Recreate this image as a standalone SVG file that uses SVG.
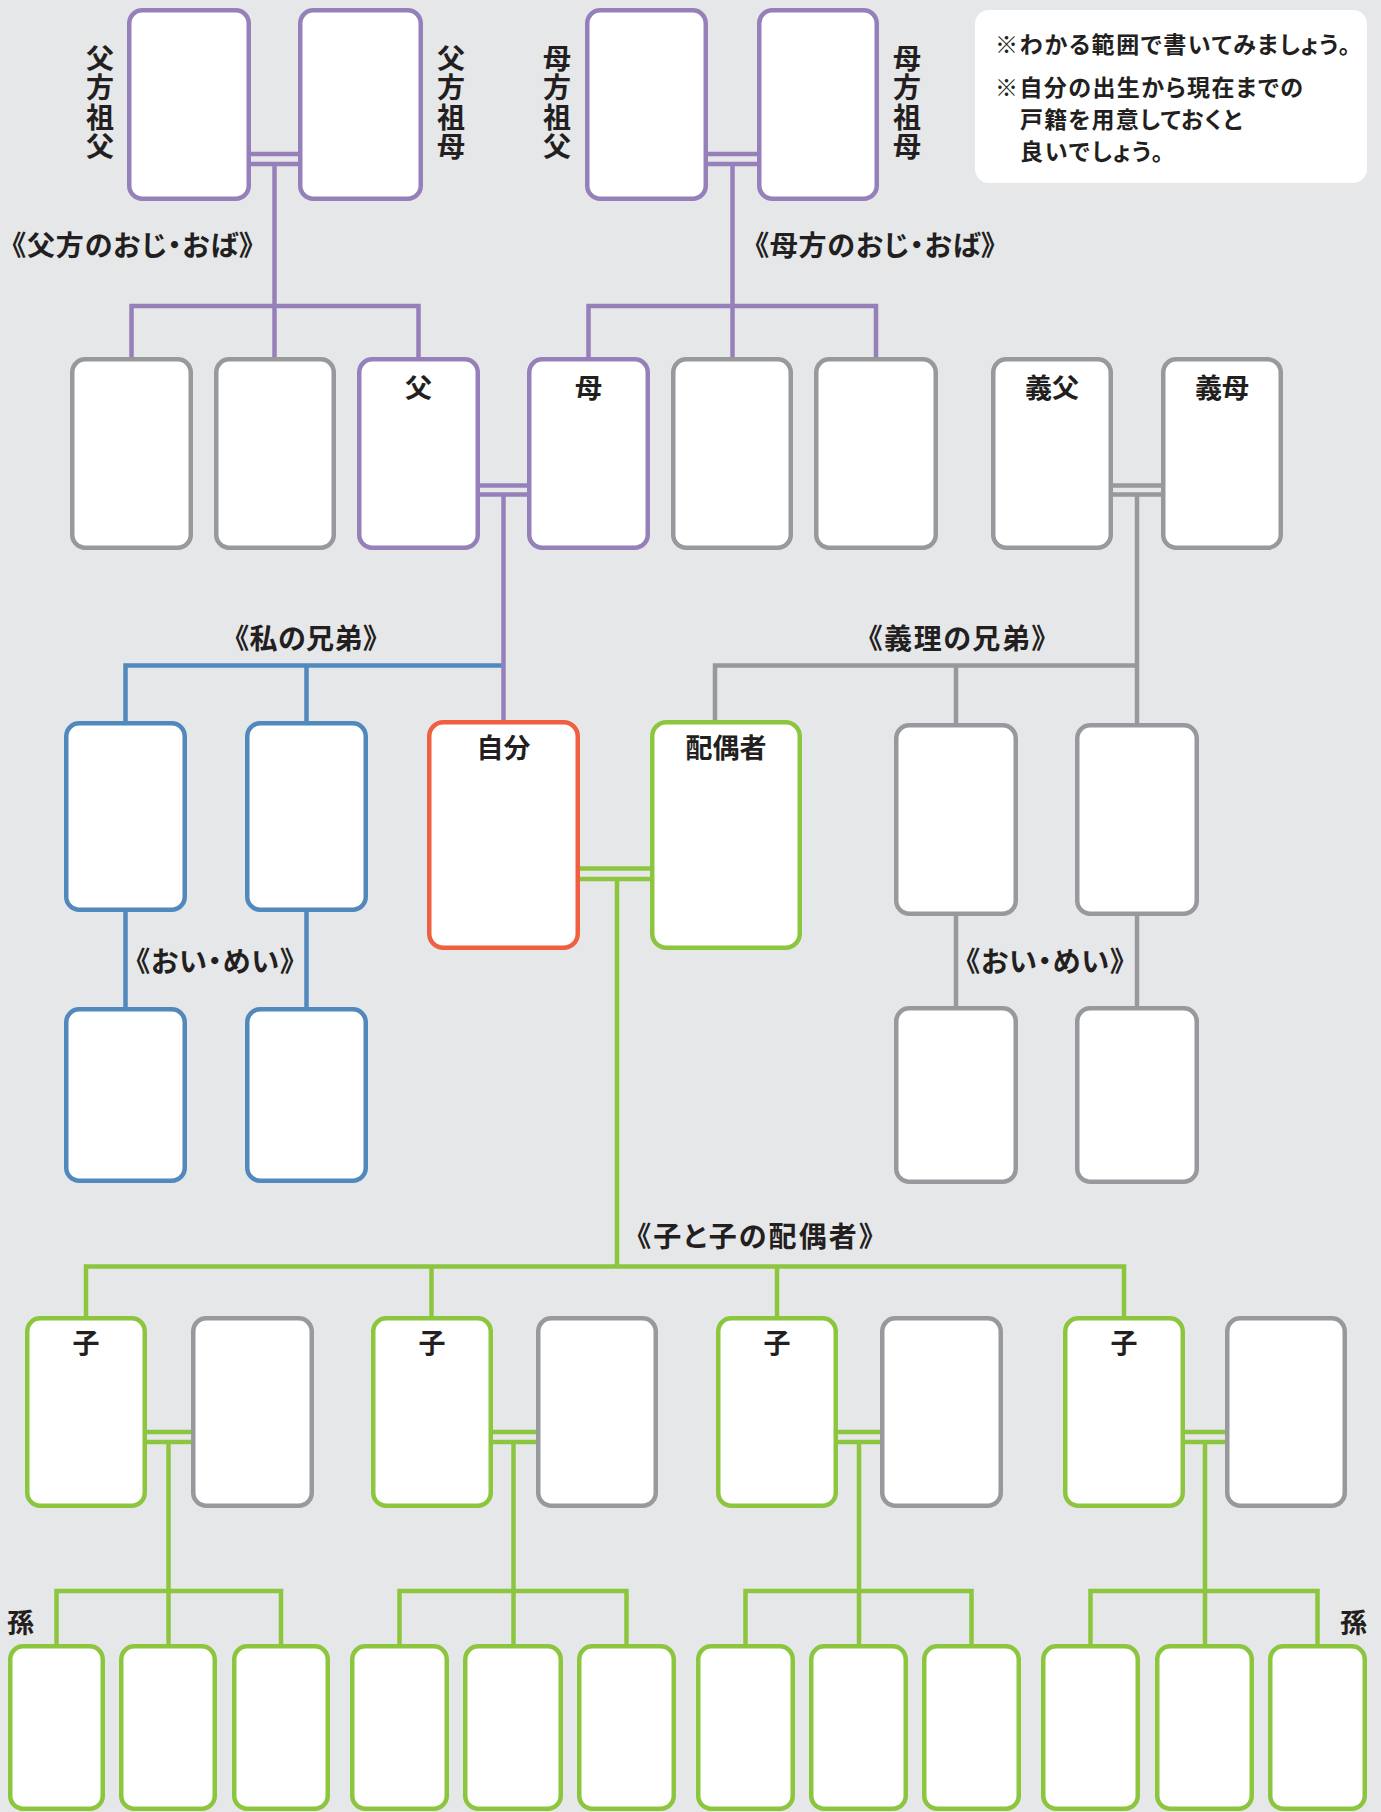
<svg xmlns="http://www.w3.org/2000/svg" width="1381" height="1812" viewBox="0 0 1381 1812">
<style>
.box{fill:#fff;stroke-width:4.5}
.p{stroke:#9680ba}
.g{stroke:#98999c}
.b{stroke:#5189bd}
.r{stroke:#f05f40}
.gr{stroke:#8cc63f}
.ln{fill:none;stroke-width:4.5;stroke-linejoin:miter}
.t{font-family:"Noto Sans CJK JP","Noto Sans CJK SC",sans-serif;fill:#231f20}
.bl{font-size:27px;font-weight:700;text-anchor:middle}
.sl{font-size:28px;font-weight:700;text-anchor:middle;font-feature-settings:"palt" 1}
.vl{font-size:28px;font-weight:700;writing-mode:vertical-rl;letter-spacing:1.5px}
.nt{font-size:23px;font-weight:700;font-feature-settings:"palt" 1}
</style>
<rect x="0" y="0" width="1381" height="1812" fill="#e6e7e9"/>

<g id="connectors">
  <g class="ln b">
    <path d="M125.5 723 V665.5 H503.5"/>
    <path d="M306.5 665.5 V723"/>
    <path d="M125.5 912 V1009"/>
    <path d="M306.5 912 V1009"/>
  </g>
  <g class="ln p">
    <path d="M251 154 H298"/>
    <path d="M251 164 H298"/>
    <path d="M274.5 164 V359"/>
    <path d="M131.5 359 V306 H418.5 V359"/>
    <path d="M708 154 H757"/>
    <path d="M708 164 H757"/>
    <path d="M732.5 164 V359"/>
    <path d="M588.5 359 V306 H876 V359"/>
    <path d="M480 485.5 H527"/>
    <path d="M480 494.5 H527"/>
    <path d="M503.5 494.5 V722"/>
  </g>
  <g class="ln g">
    <path d="M1113 485.5 H1161"/>
    <path d="M1113 494.5 H1161"/>
    <path d="M1137 494.5 V725"/>
    <path d="M715 722 V665.5 H1137"/>
    <path d="M956 665.5 V725"/>
    <path d="M956 916 V1008"/>
    <path d="M1137 916 V1008"/>
  </g>
  <g class="ln gr">
    <path d="M580 868.5 H650"/>
    <path d="M580 879 H650"/>
    <path d="M617 879 V1266.5"/>
    <path d="M86 1318 V1266.5 H1124 V1318"/>
    <path d="M431.5 1266.5 V1318"/>
    <path d="M777 1266.5 V1318"/>
    <path d="M147 1432 H191"/><path d="M147 1442 H191"/>
    <path d="M493 1432 H536"/><path d="M493 1442 H536"/>
    <path d="M838 1432 H880"/><path d="M838 1442 H880"/>
    <path d="M1185 1432 H1225"/><path d="M1185 1442 H1225"/>
    <path d="M168.5 1442 V1646"/>
    <path d="M56.5 1646 V1591 H281 V1646"/>
    <path d="M513.5 1442 V1646"/>
    <path d="M399.5 1646 V1591 H626.5 V1646"/>
    <path d="M859 1442 V1646"/>
    <path d="M745.5 1646 V1591 H971.5 V1646"/>
    <path d="M1205 1442 V1646"/>
    <path d="M1090.5 1646 V1591 H1317.5 V1646"/>
  </g>
</g>

<g id="note">
  <rect x="975" y="10" width="392" height="173" rx="14" fill="#fff"/>
  <text class="t nt" x="995" y="53" textLength="355" lengthAdjust="spacing">※わかる範囲で書いてみましょう。</text>
  <text class="t nt" x="995" y="96" textLength="308" lengthAdjust="spacing">※自分の出生から現在までの</text>
  <text class="t nt" x="1020" y="128" textLength="222" lengthAdjust="spacing">戸籍を用意しておくと</text>
  <text class="t nt" x="1020" y="160" textLength="143" lengthAdjust="spacing">良いでしょう。</text>
</g>

<g id="paternal-grandfather">
  <rect class="box p" x="129.25" y="10.25" width="119.5" height="188.5" rx="13"/>
  <text class="t vl" x="100" y="44">父方祖父</text>
</g>
<g id="paternal-grandmother">
  <rect class="box p" x="300.25" y="10.25" width="120.5" height="188.5" rx="13"/>
  <text class="t vl" x="451" y="44">父方祖母</text>
</g>
<g id="maternal-grandfather">
  <rect class="box p" x="587.25" y="10.25" width="118.5" height="188.5" rx="13"/>
  <text class="t vl" x="557" y="44">母方祖父</text>
</g>
<g id="maternal-grandmother">
  <rect class="box p" x="759.25" y="10.25" width="117.5" height="188.5" rx="13"/>
  <text class="t vl" x="907" y="44">母方祖母</text>
</g>

<g id="labels">
  <text class="t sl" x="132.5" y="255.5" textLength="241" lengthAdjust="spacing">《父方のおじ・おば》</text>
  <text class="t sl" x="875" y="256" textLength="240" lengthAdjust="spacing">《母方のおじ・おば》</text>
  <text class="t sl" x="306" y="649" textLength="142" lengthAdjust="spacing">《私の兄弟》</text>
  <text class="t sl" x="957" y="649" textLength="177" lengthAdjust="spacing">《義理の兄弟》</text>
  <text class="t sl" x="215" y="972" textLength="158" lengthAdjust="spacing">《おい・めい》</text>
  <text class="t sl" x="1045" y="972" textLength="158" lengthAdjust="spacing">《おい・めい》</text>
  <text class="t sl" x="755" y="1247" textLength="236" lengthAdjust="spacing">《子と子の配偶者》</text>
  <text class="t bl" x="20.5" y="1633">孫</text>
  <text class="t bl" x="1353.5" y="1633">孫</text>
</g>

<g id="paternal-uncle-aunt-1"><rect class="box g" x="72.25" y="359.25" width="118.5" height="188.5" rx="13"/></g>
<g id="paternal-uncle-aunt-2"><rect class="box g" x="216.25" y="359.25" width="117.5" height="188.5" rx="13"/></g>
<g id="father"><rect class="box p" x="359.25" y="359.25" width="118.5" height="188.5" rx="13"/><text class="t bl" x="418.5" y="398">父</text></g>
<g id="mother"><rect class="box p" x="529.25" y="359.25" width="118.5" height="188.5" rx="13"/><text class="t bl" x="588.5" y="398">母</text></g>
<g id="maternal-uncle-aunt-1"><rect class="box g" x="673.25" y="359.25" width="117.5" height="188.5" rx="13"/></g>
<g id="maternal-uncle-aunt-2"><rect class="box g" x="816.25" y="359.25" width="119.5" height="188.5" rx="13"/></g>
<g id="father-in-law"><rect class="box g" x="993.25" y="359.25" width="117.5" height="188.5" rx="13"/><text class="t bl" x="1052" y="398">義父</text></g>
<g id="mother-in-law"><rect class="box g" x="1163.25" y="359.25" width="117.5" height="188.5" rx="13"/><text class="t bl" x="1222" y="398">義母</text></g>

<g id="sibling-1"><rect class="box b" x="66.25" y="723.25" width="118.5" height="186.5" rx="13"/></g>
<g id="sibling-2"><rect class="box b" x="247.25" y="723.25" width="118.5" height="186.5" rx="13"/></g>
<g id="self"><rect class="box r" x="429.25" y="722.25" width="148.5" height="225.5" rx="14"/><text class="t bl" x="503.5" y="758">自分</text></g>
<g id="spouse"><rect class="box gr" x="652.25" y="722.25" width="147.5" height="225.5" rx="14"/><text class="t bl" x="726" y="758">配偶者</text></g>
<g id="sibling-in-law-1"><rect class="box g" x="896.25" y="725.25" width="119.5" height="188.5" rx="13"/></g>
<g id="sibling-in-law-2"><rect class="box g" x="1077.25" y="725.25" width="119.5" height="188.5" rx="13"/></g>

<g id="nephew-niece-1"><rect class="box b" x="66.25" y="1009.25" width="118.5" height="171.5" rx="13"/></g>
<g id="nephew-niece-2"><rect class="box b" x="247.25" y="1009.25" width="118.5" height="171.5" rx="13"/></g>
<g id="nephew-niece-3"><rect class="box g" x="896.25" y="1008.25" width="119.5" height="173.5" rx="13"/></g>
<g id="nephew-niece-4"><rect class="box g" x="1077.25" y="1008.25" width="119.5" height="173.5" rx="13"/></g>

<g id="child-1"><rect class="box gr" x="27.25" y="1318.25" width="117.5" height="187.5" rx="13"/><text class="t bl" x="86" y="1353">子</text></g>
<g id="child-spouse-1"><rect class="box g" x="193.25" y="1318.25" width="118.5" height="187.5" rx="13"/></g>
<g id="child-2"><rect class="box gr" x="373.25" y="1318.25" width="117.5" height="187.5" rx="13"/><text class="t bl" x="432" y="1353">子</text></g>
<g id="child-spouse-2"><rect class="box g" x="538.25" y="1318.25" width="117.5" height="187.5" rx="13"/></g>
<g id="child-3"><rect class="box gr" x="718.25" y="1318.25" width="117.5" height="187.5" rx="13"/><text class="t bl" x="777" y="1353">子</text></g>
<g id="child-spouse-3"><rect class="box g" x="882.25" y="1318.25" width="118.5" height="187.5" rx="13"/></g>
<g id="child-4"><rect class="box gr" x="1065.25" y="1318.25" width="117.5" height="187.5" rx="13"/><text class="t bl" x="1124" y="1353">子</text></g>
<g id="child-spouse-4"><rect class="box g" x="1227.25" y="1318.25" width="117.5" height="187.5" rx="13"/></g>

<g id="grandchild-1"><rect class="box gr" x="10.25" y="1646.25" width="92.5" height="162.5" rx="13"/></g>
<g id="grandchild-2"><rect class="box gr" x="121.25" y="1646.25" width="93.5" height="162.5" rx="13"/></g>
<g id="grandchild-3"><rect class="box gr" x="234.25" y="1646.25" width="93.5" height="162.5" rx="13"/></g>
<g id="grandchild-4"><rect class="box gr" x="352.25" y="1646.25" width="94.5" height="162.5" rx="13"/></g>
<g id="grandchild-5"><rect class="box gr" x="465.25" y="1646.25" width="95.5" height="162.5" rx="13"/></g>
<g id="grandchild-6"><rect class="box gr" x="579.25" y="1646.25" width="94.5" height="162.5" rx="13"/></g>
<g id="grandchild-7"><rect class="box gr" x="698.25" y="1646.25" width="94.5" height="162.5" rx="13"/></g>
<g id="grandchild-8"><rect class="box gr" x="811.25" y="1646.25" width="94.5" height="162.5" rx="13"/></g>
<g id="grandchild-9"><rect class="box gr" x="924.25" y="1646.25" width="94.5" height="162.5" rx="13"/></g>
<g id="grandchild-10"><rect class="box gr" x="1043.25" y="1646.25" width="94.5" height="162.5" rx="13"/></g>
<g id="grandchild-11"><rect class="box gr" x="1157.25" y="1646.25" width="94.5" height="162.5" rx="13"/></g>
<g id="grandchild-12"><rect class="box gr" x="1270.25" y="1646.25" width="94.5" height="162.5" rx="13"/></g>
</svg>
